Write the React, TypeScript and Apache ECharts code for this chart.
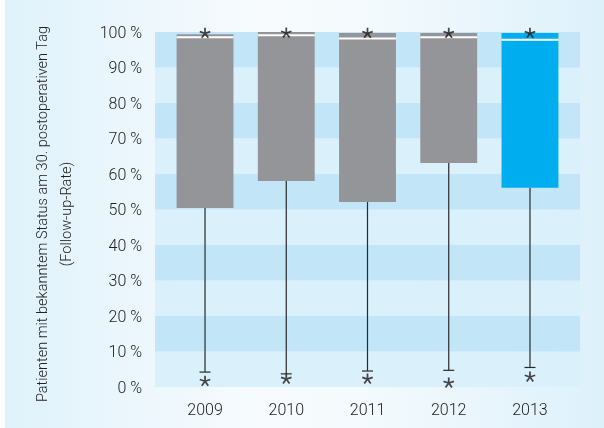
import React, { useEffect, useRef } from "react";
import * as echarts from "echarts";

const years = ["2009", "2010", "2011", "2012", "2013"];
const whiskerLow = [4.2, 3.7, 4.5, 4.7, 5.5];
const q1 = [50.4, 58.0, 52.1, 63.1, 56.1];
const median = [98.5, 99.1, 98.2, 98.5, 97.8];
const q3 = [99.4, 100, 99.7, 99.7, 99.7];
const whiskerHigh = [99.4, 100, 99.7, 99.7, 99.7];
const upperOutliers = [99.7, 99.8, 99.7, 99.7, 99.7];
const lowerOutliers = [1.7, 2.3, 2.3, 1.2, 2.9];
const yTicks = [0, 10, 20, 30, 40, 50, 60, 70, 80, 90, 100];

const GRAY = "#949599";
const BLUE = "#00aeef";
const STAR =
  "path://M58 50L58 0L42 0L42 50Z" +
  "M52.47 57.61L100 42.16L95.08 26.94L47.53 42.39Z" +
  "M43.53 54.7L72.92 95.15L85.86 85.75L56.47 45.3Z" +
  "M43.53 45.3L14.14 85.75L27.08 95.15L56.47 54.7Z" +
  "M52.47 42.39L4.92 26.94L0 42.16L47.53 57.61Z";

export default function App() {
  const ref = useRef<HTMLDivElement>(null);
  useEffect(() => {
    if (!ref.current) return;
    const chart = echarts.init(ref.current, null, { renderer: "svg" });
    const boxData = years.map((_, i) => [i, whiskerLow[i], q1[i], median[i], q3[i], whiskerHigh[i]]);
    const outData: number[][] = [];
    years.forEach((_, i) => {
      outData.push([i, upperOutliers[i]]);
      outData.push([i, lowerOutliers[i]]);
    });
    chart.setOption({
      animation: false,
      textStyle: { fontFamily: "Roboto" },
      graphic: [
        {
          type: "rect",
          z: -10,
          shape: { x: 5, y: 0, width: 599, height: 428 },
          style: {
            fill: new echarts.graphic.LinearGradient(0, 0, 1, 0, [
              { offset: 0, color: "#dff2fb" },
              { offset: 0.42, color: "#f7fbfe" },
              { offset: 0.6, color: "#f4fafd" },
              { offset: 1, color: "#ddf1fb" },
            ]),
          },
        },
        {
          type: "text",
          x: 54,
          y: 214,
          rotation: Math.PI / 2,
          z: 10,
          style: {
            text: "Patienten mit bekanntem Status am 30. postoperativen Tag\n(Follow-up-Rate)",
            fill: "#222",
            font: "300 14.5px Roboto",
            align: "center",
            verticalAlign: "middle",
            lineHeight: 24,
          },
        },
      ],
      grid: [
        { left: 155, right: 24, top: 32, bottom: 41 },
        { left: 164.4, right: 33.4, top: 32, bottom: 41 },
      ],
      xAxis: [
        { type: "value", gridIndex: 0, show: false, min: 0, max: 1 },
        {
          type: "category",
          gridIndex: 1,
          data: years,
          axisLine: { show: false },
          axisTick: { show: false },
          axisLabel: { color: "#222", fontSize: 16, margin: 14, fontFamily: "Roboto", fontWeight: 300 },
        },
      ],
      yAxis: [
        {
          type: "value",
          gridIndex: 0,
          min: 0,
          max: 100,
          interval: 10,
          axisLine: { show: false },
          axisTick: { show: false },
          splitLine: { show: false },
          splitArea: { show: true, areaStyle: { color: ["#daf0fb", "#c2e6f8"] } },
          axisLabel: {
            color: "#222",
            fontSize: 16,
            margin: 13,
            fontFamily: "Roboto",
            fontWeight: 300,
            formatter: (v: number) => (yTicks.includes(v) ? `${v} %` : ""),
          },
        },
        { type: "value", gridIndex: 1, min: 0, max: 100, interval: 10, show: false },
      ],
      series: [
        {
          type: "custom",
          xAxisIndex: 1,
          yAxisIndex: 1,
          data: boxData,
          z: 3,
          renderItem: (params: any, api: any) => {
            const i = api.value(0);
            const x = api.coord([i, 0])[0];
            const yLow = api.coord([i, api.value(1)])[1];
            const yQ1 = api.coord([i, api.value(2)])[1];
            const yMed = api.coord([i, api.value(3)])[1];
            const yQ3 = api.coord([i, api.value(4)])[1];
            const yHigh = api.coord([i, api.value(5)])[1];
            const bw = api.size([1, 0])[0] * 0.7;
            const fill = i === years.length - 1 ? BLUE : GRAY;
            const stroke = { stroke: "#2a2a2a", lineWidth: 1.2 };
            return {
              type: "group",
              children: [
                { type: "line", shape: { x1: x, y1: yQ1, x2: x, y2: yLow }, style: stroke },
                { type: "line", shape: { x1: x - 5.5, y1: yLow, x2: x + 5.5, y2: yLow }, style: stroke },
                { type: "line", shape: { x1: x, y1: yQ3, x2: x, y2: yHigh }, style: stroke },
                { type: "rect", shape: { x: x - bw / 2, y: yQ3, width: bw, height: yQ1 - yQ3 }, style: { fill } },
                {
                  type: "line",
                  shape: { x1: x - bw / 2, y1: yMed, x2: x + bw / 2, y2: yMed },
                  style: { stroke: "#fff", lineWidth: 2 },
                },
              ],
            };
          },
        },
        {
          type: "scatter",
          xAxisIndex: 1,
          yAxisIndex: 1,
          data: outData,
          symbol: STAR,
          symbolSize: [11, 10.5],
          itemStyle: { color: "#1a1a1a" },
          z: 5,
        },
      ],
    });
    return () => chart.dispose();
  }, []);
  return (
    <div
      ref={ref}
      style={{ position: "fixed", left: 0, top: 0, width: 604, height: 428 }}
    />
  );
}
